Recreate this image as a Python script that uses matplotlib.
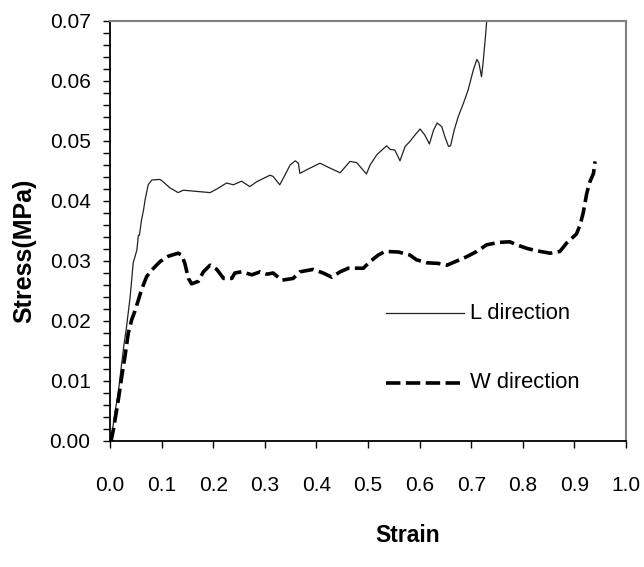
import matplotlib
matplotlib.use('Agg')
import matplotlib.pyplot as plt
from matplotlib.ticker import MultipleLocator

plt.rcParams['font.family'] = ['Liberation Sans', 'DejaVu Sans']

# L direction (solid line)
l_strain = [0.0, 0.002, 0.0097, 0.016, 0.0227, 0.027, 0.032, 0.039, 0.045, 0.052, 0.055,
            0.057, 0.061, 0.065, 0.068, 0.074, 0.081, 0.097, 0.103, 0.116, 0.132, 0.142,
            0.194, 0.207, 0.226, 0.239, 0.255, 0.271, 0.284, 0.310, 0.316, 0.329, 0.339,
            0.349, 0.359, 0.365, 0.368, 0.381, 0.407, 0.426, 0.446, 0.465, 0.478, 0.497,
            0.504, 0.517, 0.536, 0.543, 0.552, 0.562, 0.572, 0.581, 0.591, 0.601, 0.610,
            0.619, 0.627, 0.634, 0.643, 0.649, 0.656, 0.660, 0.667, 0.675, 0.685, 0.694,
            0.704, 0.711, 0.715, 0.720, 0.723, 0.727, 0.730, 0.735]
l_stress = [0.0, 0.0, 0.0049, 0.008, 0.013, 0.016, 0.019, 0.024, 0.0297, 0.0318, 0.0343,
            0.0343, 0.0368, 0.0385, 0.0402, 0.0427, 0.0435, 0.0436, 0.0432, 0.0422, 0.0414, 0.0418,
            0.0414, 0.0420, 0.0430, 0.0427, 0.0433, 0.0424, 0.0432, 0.0443, 0.0441, 0.0427, 0.0443,
            0.0460, 0.0467, 0.0463, 0.0446, 0.0452, 0.0463, 0.0455, 0.0447, 0.0466, 0.0464, 0.0445,
            0.0460, 0.0477, 0.0492, 0.0486, 0.0485, 0.0467, 0.0491, 0.0499, 0.0510, 0.0520, 0.0510,
            0.0495, 0.0518, 0.0530, 0.0524, 0.0507, 0.0491, 0.0492, 0.0518, 0.0541, 0.0563, 0.0585,
            0.0618, 0.0636, 0.0630, 0.0607, 0.0630, 0.0668, 0.0699, 0.075]

# W direction (dashed line)
w_strain = [0.0, 0.002, 0.0064, 0.0097, 0.016, 0.0227, 0.029, 0.0355, 0.042, 0.048, 0.055,
            0.061, 0.071, 0.081, 0.097, 0.113, 0.132, 0.139, 0.145, 0.152, 0.158, 0.171,
            0.181, 0.194, 0.207, 0.220, 0.236, 0.242, 0.255, 0.275, 0.291, 0.304, 0.316,
            0.333, 0.355, 0.368, 0.394, 0.413, 0.430, 0.446, 0.462, 0.491, 0.504, 0.520,
            0.533, 0.559, 0.581, 0.594, 0.614, 0.636, 0.653, 0.672, 0.691, 0.711, 0.730,
            0.753, 0.775, 0.788, 0.808, 0.827, 0.853, 0.872, 0.885, 0.904, 0.911, 0.917,
            0.924, 0.930, 0.937, 0.940]
w_stress = [0.0, 0.0, 0.0018, 0.0035, 0.0068, 0.0107, 0.0141, 0.0180, 0.0202, 0.0216, 0.0235,
            0.0252, 0.0274, 0.0285, 0.0299, 0.0308, 0.0313, 0.0310, 0.0296, 0.0271, 0.0262, 0.0266,
            0.0282, 0.0293, 0.0286, 0.0271, 0.0271, 0.0280, 0.0282, 0.0277, 0.0282, 0.0278, 0.0280,
            0.0268, 0.0271, 0.0282, 0.0286, 0.0280, 0.0273, 0.0282, 0.0288, 0.0288, 0.0299, 0.0310,
            0.0316, 0.0315, 0.0310, 0.0302, 0.0297, 0.0296, 0.0293, 0.0300, 0.0307, 0.0316, 0.0327,
            0.0331, 0.0332, 0.0327, 0.0321, 0.0317, 0.0313, 0.0316, 0.0330, 0.0345, 0.0360, 0.0380,
            0.0413, 0.0432, 0.0446, 0.0466]

fig = plt.figure(figsize=(6.44, 5.67), dpi=100)
ax = fig.add_axes([110 / 644, 1 - 441 / 567, 516 / 644, 420 / 567])

ax.plot(l_strain, l_stress, color='#222222', lw=0.9)
ax.plot(w_strain, w_stress, color='black', lw=2.6, dashes=(4, 1.5))

ax.set_xlim(0, 1.0)
ax.set_ylim(0, 0.07)
ax.xaxis.set_major_locator(MultipleLocator(0.1))
ax.yaxis.set_major_locator(MultipleLocator(0.01))
ax.yaxis.set_minor_locator(MultipleLocator(0.002))
ax.set_xticklabels([f'{v:.1f}' for v in ax.get_xticks()])
ax.set_yticklabels([f'{v:.2f}' for v in ax.get_yticks()])
ax.tick_params(which='both', direction='out', length=5, width=1, labelsize=15, color='black')
ax.tick_params(axis='x', pad=20)
ax.tick_params(axis='y', pad=9)

for s in ['top', 'right']:
    ax.spines[s].set_color('#808080')
    ax.spines[s].set_linewidth(1.5)
for s in ['left', 'bottom']:
    ax.spines[s].set_color('black')
    ax.spines[s].set_linewidth(1.3)

# legend drawn inside the plot like the original
ax.plot([0.534, 0.686], [0.0213, 0.0213], color='#222222', lw=0.9)
ax.plot([0.534, 0.686], [0.0097, 0.0097], color='black', lw=2.6, dashes=(4, 1.5))
ax.text(0.698, 0.0213, 'L direction', fontsize=15.8, va='center', ha='left')
ax.text(0.698, 0.0097, 'W direction', fontsize=15.8, va='center', ha='left')

fig.text(408 / 644, 1 - 535 / 567, 'Strain', fontsize=16.5, fontweight='bold', ha='center', va='center')
fig.text(24 / 644, 1 - 251 / 567, 'Stress(MPa)', fontsize=18, fontweight='bold', ha='center',
         va='center', rotation=90)

fig.savefig('out.png', dpi=100)
